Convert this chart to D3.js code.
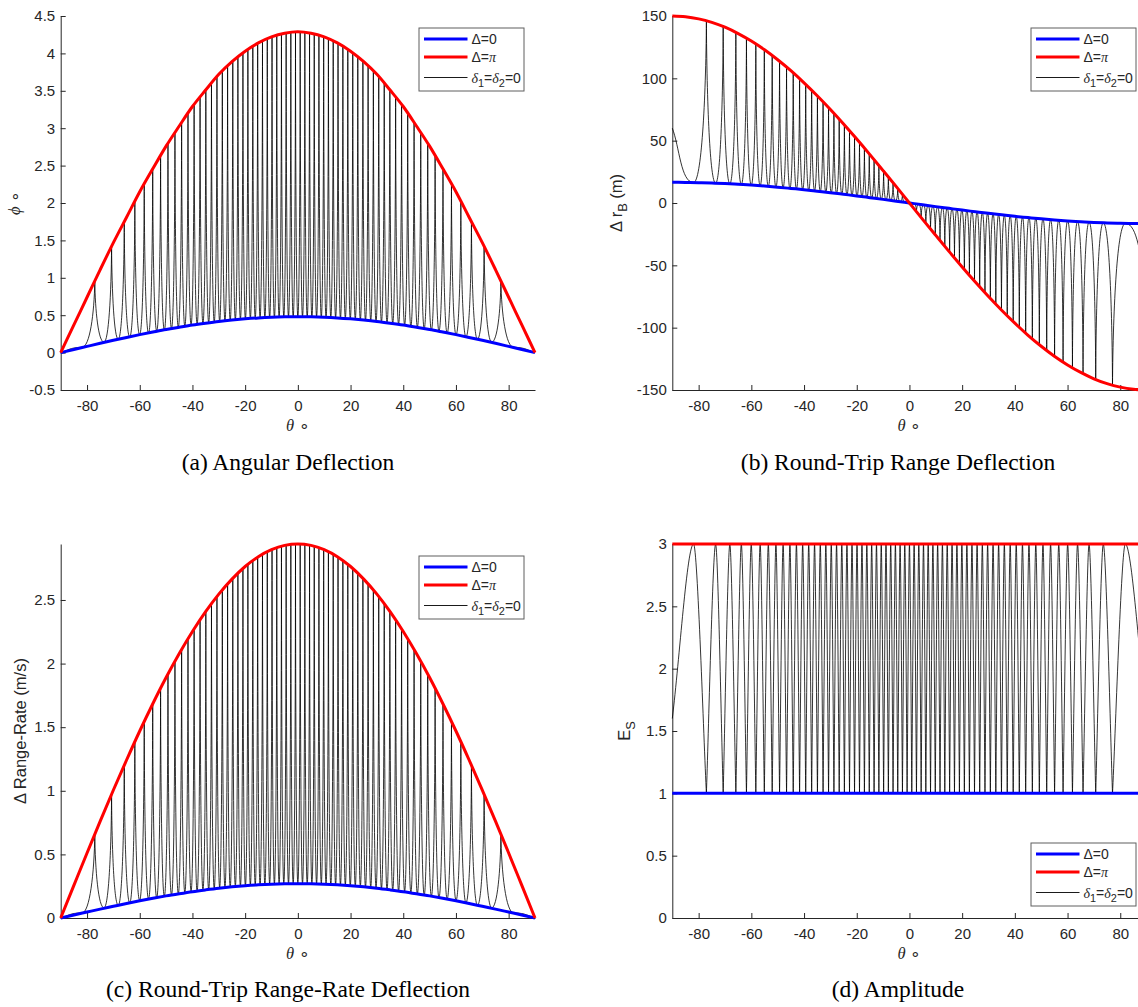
<!DOCTYPE html>
<html>
<head>
<meta charset="utf-8">
<script src="https://cdn.jsdelivr.net/npm/d3@7"></script>
<style>
  body { margin: 0; background: #fff; }
  text { font-family: "Liberation Sans", Arial, Helvetica, sans-serif; fill: #262626; }
  .caption { font-family: "Liberation Serif", "Times New Roman", serif; fill: #000; }
</style>
</head>
<body>
<div id="figure"></div>
<script>

// initial settings

var svgWidth = 1138;
var svgHeight = 1007;

// tick labels

var xTicks = [-80, -60, -40, -20, 0, 20, 40, 60, 80];
var ticksA = [-0.5, 0, 0.5, 1, 1.5, 2, 2.5, 3, 3.5, 4, 4.5];
var ticksB = [-150, -100, -50, 0, 50, 100, 150];
var ticksC = [0, 0.5, 1, 1.5, 2, 2.5];
var ticksD = [0, 0.5, 1, 1.5, 2, 2.5, 3];

// envelope curves (delta = 0 blue, delta = pi red), read every 5 degrees

var envTheta = [-90, -85, -80, -75, -70, -65, -60, -55, -50, -45, -40, -35, -30, -25, -20, -15, -10, -5, 0,
  5, 10, 15, 20, 25, 30, 35, 40, 45, 50, 55, 60, 65, 70, 75, 80, 85, 90];

var redA = [0, 0.37, 0.74, 1.11, 1.47, 1.81, 2.15, 2.46, 2.76, 3.03, 3.29, 3.51, 3.72, 3.89, 4.03, 4.14, 4.22, 4.27, 4.29,
  4.27, 4.22, 4.14, 4.03, 3.89, 3.72, 3.51, 3.29, 3.03, 2.76, 2.46, 2.15, 1.81, 1.47, 1.11, 0.74, 0.37, 0];
var blueA = [0, 0.042, 0.083, 0.124, 0.164, 0.203, 0.24, 0.275, 0.309, 0.339, 0.368, 0.393, 0.416, 0.435, 0.451, 0.464, 0.473, 0.478, 0.48,
  0.478, 0.473, 0.464, 0.451, 0.435, 0.416, 0.393, 0.368, 0.339, 0.309, 0.275, 0.24, 0.203, 0.164, 0.124, 0.083, 0.042, 0];

var redB = [150, 149.4, 147.7, 144.9, 141.0, 135.9, 129.9, 122.9, 114.9, 106.1, 96.4, 86.0, 75.0, 63.4, 51.3, 38.8, 26.0, 13.1, 0,
  -13.1, -26.0, -38.8, -51.3, -63.4, -75.0, -86.0, -96.4, -106.1, -114.9, -122.9, -129.9, -135.9, -141.0, -144.9, -147.7, -149.4, -150];
var blueB = [16.6, 16.5, 16.3, 16.0, 15.6, 15.0, 14.4, 13.6, 12.7, 11.7, 10.7, 9.5, 8.3, 7.0, 5.7, 4.3, 2.9, 1.4, 0,
  -1.4, -2.9, -4.3, -5.7, -7.0, -8.3, -9.5, -10.7, -11.7, -12.7, -13.6, -14.4, -15.0, -15.6, -16.0, -16.3, -16.5, -16.6];

var redC = [0, 0.256, 0.511, 0.761, 1.006, 1.242, 1.47, 1.686, 1.89, 2.079, 2.252, 2.408, 2.546, 2.664, 2.763, 2.84, 2.895, 2.929, 2.94,
  2.929, 2.895, 2.84, 2.763, 2.664, 2.546, 2.408, 2.252, 2.079, 1.89, 1.686, 1.47, 1.242, 1.006, 0.761, 0.511, 0.256, 0];
var blueC = [0, 0.024, 0.047, 0.07, 0.092, 0.114, 0.135, 0.155, 0.174, 0.191, 0.207, 0.221, 0.234, 0.245, 0.254, 0.261, 0.266, 0.269, 0.27,
  0.269, 0.266, 0.261, 0.254, 0.245, 0.234, 0.221, 0.207, 0.191, 0.174, 0.155, 0.135, 0.114, 0.092, 0.07, 0.047, 0.024, 0];

var flatTheta = [-90, 90];
var redD = [3, 3];
var blueD = [1, 1];

// delta1 = delta2 = 0 curve: end points and turning points (theta, degrees)

var blackTheta = [-90,
  -81.92, -77.06, -73.56, -70.69, -68.16, -65.88, -63.80, -61.86, -60.04, -58.30,
  -56.66, -55.08, -53.56, -52.09, -50.67, -49.29, -47.95, -46.64, -45.36, -44.11,
  -42.89, -41.69, -40.52, -39.37, -38.23, -37.11, -36.01, -34.92, -33.84, -32.78,
  -31.73, -30.70, -29.67, -28.66, -27.66, -26.66, -25.67, -24.69, -23.72, -22.75,
  -21.80, -20.84, -19.90, -18.96, -18.02, -17.09, -16.17, -15.25, -14.33, -13.42,
  -12.51, -11.60, -10.70, -9.80, -8.90, -8.00, -7.11, -6.22, -5.33, -4.44,
  -3.55, -2.66, -1.77, -0.89,
  0,
  0.89, 1.77, 2.66, 3.55, 4.44, 5.33, 6.22, 7.11, 8.00, 8.90,
  9.80, 10.70, 11.60, 12.51, 13.42, 14.33, 15.25, 16.17, 17.09, 18.02,
  18.96, 19.90, 20.84, 21.80, 22.75, 23.72, 24.69, 25.67, 26.66, 27.66,
  28.66, 29.67, 30.70, 31.73, 32.78, 33.84, 34.92, 36.01, 37.11, 38.23,
  39.37, 40.52, 41.69, 42.89, 44.11, 45.36, 46.64, 47.95, 49.29, 50.67,
  52.09, 53.56, 55.08, 56.66, 58.30, 60.04, 61.86, 63.80, 65.88, 68.16,
  70.69, 73.56, 77.06, 81.92,
  90];

var blackA = [0,
  0.07, 0.96, 0.14, 1.42, 0.18, 1.75, 0.21, 2.02, 0.24, 2.25,
  0.26, 2.46, 0.29, 2.64, 0.30, 2.80, 0.32, 2.95, 0.34, 3.08,
  0.35, 3.20, 0.37, 3.32, 0.38, 3.42, 0.39, 3.52, 0.40, 3.61,
  0.41, 3.69, 0.42, 3.76, 0.43, 3.83, 0.43, 3.90, 0.44, 3.96,
  0.45, 4.01, 0.45, 4.06, 0.46, 4.10, 0.46, 4.14, 0.47, 4.17,
  0.47, 4.20, 0.47, 4.23, 0.47, 4.25, 0.48, 4.27, 0.48, 4.28,
  0.48, 4.29, 0.48, 4.29,
  0.48,
  4.29, 0.48, 4.29, 0.48, 4.28, 0.48, 4.27, 0.48, 4.25, 0.47,
  4.23, 0.47, 4.20, 0.47, 4.17, 0.47, 4.14, 0.46, 4.10, 0.46,
  4.06, 0.45, 4.01, 0.45, 3.96, 0.44, 3.90, 0.43, 3.83, 0.43,
  3.76, 0.42, 3.69, 0.41, 3.61, 0.40, 3.52, 0.39, 3.42, 0.38,
  3.32, 0.37, 3.20, 0.35, 3.08, 0.34, 2.95, 0.32, 2.80, 0.30,
  2.64, 0.29, 2.46, 0.26, 2.25, 0.24, 2.02, 0.21, 1.75, 0.18,
  1.42, 0.14, 0.96, 0.07,
  0];

var blackB = [60,
  16.4, 146.2, 15.9, 141.6, 15.4, 136.9, 14.9, 132.3, 14.4, 127.6,
  13.9, 123.0, 13.4, 118.3, 12.8, 113.7, 12.3, 109.1, 11.8, 104.4,
  11.3, 99.8, 10.8, 95.1, 10.3, 90.5, 9.8, 85.9, 9.2, 81.2,
  8.7, 76.6, 8.2, 71.9, 7.7, 67.3, 7.2, 62.7, 6.7, 58.0,
  6.2, 53.4, 5.7, 48.7, 5.1, 44.1, 4.6, 39.5, 4.1, 34.8,
  3.6, 30.2, 3.1, 25.5, 2.6, 20.9, 2.1, 16.2, 1.5, 11.6,
  1.0, 7.0, 0.5, 2.3,
  0,
  -2.3, -0.5, -7.0, -1.0, -11.6, -1.5, -16.2, -2.1, -20.9, -2.6,
  -25.5, -3.1, -30.2, -3.6, -34.8, -4.1, -39.5, -4.6, -44.1, -5.1,
  -48.7, -5.7, -53.4, -6.2, -58.0, -6.7, -62.7, -7.2, -67.3, -7.7,
  -71.9, -8.2, -76.6, -8.7, -81.2, -9.2, -85.9, -9.8, -90.5, -10.3,
  -95.1, -10.8, -99.8, -11.3, -104.4, -11.8, -109.1, -12.3, -113.7, -12.8,
  -118.3, -13.4, -123.0, -13.9, -127.6, -14.4, -132.3, -14.9, -136.9, -15.4,
  -141.6, -15.9, -146.2, -16.4,
  -60];

var blackC = [0,
  0.04, 0.66, 0.08, 0.97, 0.10, 1.20, 0.12, 1.39, 0.14, 1.55,
  0.15, 1.68, 0.16, 1.81, 0.17, 1.92, 0.18, 2.02, 0.19, 2.11,
  0.20, 2.20, 0.21, 2.27, 0.21, 2.35, 0.22, 2.41, 0.22, 2.47,
  0.23, 2.53, 0.24, 2.58, 0.24, 2.63, 0.24, 2.67, 0.25, 2.71,
  0.25, 2.75, 0.25, 2.78, 0.26, 2.81, 0.26, 2.84, 0.26, 2.86,
  0.26, 2.88, 0.27, 2.90, 0.27, 2.91, 0.27, 2.92, 0.27, 2.93,
  0.27, 2.94, 0.27, 2.94,
  0.27,
  2.94, 0.27, 2.94, 0.27, 2.93, 0.27, 2.92, 0.27, 2.91, 0.27,
  2.90, 0.27, 2.88, 0.26, 2.86, 0.26, 2.84, 0.26, 2.81, 0.26,
  2.78, 0.25, 2.75, 0.25, 2.71, 0.25, 2.67, 0.24, 2.63, 0.24,
  2.58, 0.24, 2.53, 0.23, 2.47, 0.22, 2.41, 0.22, 2.35, 0.21,
  2.27, 0.21, 2.20, 0.20, 2.11, 0.19, 2.02, 0.18, 1.92, 0.17,
  1.81, 0.16, 1.68, 0.15, 1.55, 0.14, 1.39, 0.12, 1.20, 0.10,
  0.97, 0.08, 0.66, 0.04,
  0];

var blackD = [1.6,
  3, 1, 3, 1, 3, 1, 3, 1, 3, 1,
  3, 1, 3, 1, 3, 1, 3, 1, 3, 1,
  3, 1, 3, 1, 3, 1, 3, 1, 3, 1,
  3, 1, 3, 1, 3, 1, 3, 1, 3, 1,
  3, 1, 3, 1, 3, 1, 3, 1, 3, 1,
  3, 1, 3, 1, 3, 1, 3, 1, 3, 1,
  3, 1, 3, 1,
  3,
  1, 3, 1, 3, 1, 3, 1, 3, 1, 3,
  1, 3, 1, 3, 1, 3, 1, 3, 1, 3,
  1, 3, 1, 3, 1, 3, 1, 3, 1, 3,
  1, 3, 1, 3, 1, 3, 1, 3, 1, 3,
  1, 3, 1, 3, 1, 3, 1, 3, 1, 3,
  1, 3, 1, 3, 1, 3, 1, 3, 1, 3,
  1, 3, 1, 3,
  1.6];

// shape of the black curve between turning points

var spike = { round: 0.6, sharpX: 0.04, sharpY: 0.5 };
var wave = { round: 0.3, sharpX: 0.2, sharpY: 0.2 };

// panel layout

var panels = [
  { left: 60.7, right: 535, top: 16, bottom: 390, ydomain: [-0.5, 4.5], yticks: ticksA,
    envx: envTheta, red: redA, blue: blueA, black: blackA, shape: spike,
    legendRight: 524, legendTop: 28,
    ylabel: [["ϕ", "g"], [" ∘", ""]], ylabelX: 20,
    caption: "(a) Angular Deflection", captionX: 288, captionY: 470 },
  { left: 672.3, right: 1146.6, top: 16, bottom: 390, ydomain: [-150, 150], yticks: ticksB,
    envx: envTheta, red: redB, blue: blueB, black: blackB, shape: spike,
    legendRight: 1136, legendTop: 28,
    ylabel: [["Δ r", ""], ["B", "s"], [" (m)", ""]], ylabelX: 622,
    caption: "(b) Round-Trip Range Deflection", captionX: 898, captionY: 470 },
  { left: 60.7, right: 535, top: 544, bottom: 918, ydomain: [0, 2.94], yticks: ticksC,
    envx: envTheta, red: redC, blue: blueC, black: blackC, shape: spike,
    legendRight: 524, legendTop: 556,
    ylabel: [["Δ Range-Rate (m/s)", ""]], ylabelX: 26,
    caption: "(c) Round-Trip Range-Rate Deflection", captionX: 288, captionY: 997 },
  { left: 672.3, right: 1146.6, top: 544, bottom: 918, ydomain: [0, 3], yticks: ticksD,
    envx: flatTheta, red: redD, blue: blueD, black: blackD, shape: wave,
    legendRight: 1136, legendTop: 843,
    ylabel: [["E", ""], ["S", "s"]], ylabelX: 630,
    caption: "(d) Amplitude", captionX: 898, captionY: 997 }
];

var legendItems = [
  { color: "#0000ff", width: 3, parts: [["Δ=0", ""]] },
  { color: "#ff0000", width: 3, parts: [["Δ=", ""], ["π", "g"]] },
  { color: "#000000", width: 0.9, parts: [["δ", "g"], ["1", "s"], ["=", ""], ["δ", "g"], ["2", "s"], ["=0", ""]] }
];

// create svg element

var svg = d3.select("#figure")
  .append("svg")
  .attr("width", svgWidth)
  .attr("height", svgHeight)
  .style("display", "block")
  .style("background", "#fff");

// write text made of plain, greek and subscript pieces

function richText(sel, parts, size) {
  var shifted = 0;
  parts.forEach(function (part) {
    var t = sel.append("tspan").text(part[0]);
    var shift = part[1] === "s" ? size * 0.3 : 0;
    if (shift !== shifted) {
      t.attr("dy", shift - shifted);
      shifted = shift;
    }
    if (part[1] === "g") {
      t.style("font-family", "'Liberation Serif', 'DejaVu Serif', serif")
        .style("font-style", "italic");
    }
    if (part[1] === "s") {
      t.attr("font-size", size * 0.78);
    }
  });
  return sel;
}

// control point for one end of a bezier piece

function control(kind, px, py, ox, oy, dx, s, dir) {
  if (kind === "round") return [px + dir * s.round * dx, py];
  if (kind === "sharp") return [px + dir * s.sharpX * dx, py + s.sharpY * (oy - py)];
  return [px + (ox - px) / 3, py + (oy - py) / 3];
}

// black curve: rounded at even turning points, sharp at odd ones

function blackPath(xs, ys, s) {
  var n = xs.length;
  var kind = function (i) {
    if (i === 0 || i === n - 1) return "end";
    return i % 2 === 0 ? "sharp" : "round";
  };
  var path = d3.path();
  path.moveTo(xs[0], ys[0]);
  for (var i = 0; i < n - 1; i++) {
    var dx = xs[i + 1] - xs[i];
    var c1 = control(kind(i), xs[i], ys[i], xs[i + 1], ys[i + 1], dx, s, 1);
    var c2 = control(kind(i + 1), xs[i + 1], ys[i + 1], xs[i], ys[i], dx, s, -1);
    path.bezierCurveTo(c1[0], c1[1], c2[0], c2[1], xs[i + 1], ys[i + 1]);
  }
  return path.toString();
}

// legend box

function drawLegend(g, right, top) {
  var w = 105, h = 63;
  var rows = [11, 29, 49.5];
  var box = g.append("g").attr("transform", `translate(${right - w}, ${top})`);
  box.append("rect")
    .attr("width", w)
    .attr("height", h)
    .attr("fill", "#fff")
    .attr("stroke", "#5f5f5f")
    .attr("stroke-width", 1);
  legendItems.forEach(function (item, i) {
    box.append("line")
      .attr("x1", 5).attr("x2", 48.5)
      .attr("y1", rows[i]).attr("y2", rows[i])
      .attr("stroke", item.color)
      .attr("stroke-width", item.width);
    var t = box.append("text")
      .attr("x", 52.5)
      .attr("y", rows[i] + 5)
      .attr("font-size", 14);
    richText(t, item.parts, 14);
  });
}

// draw each panel

panels.forEach(function (p) {
  var x = d3.scaleLinear().domain([-90, 90]).range([p.left, p.right]);
  var y = d3.scaleLinear().domain(p.ydomain).range([p.bottom, p.top]);
  var g = svg.append("g");

  // axes
  var bottom = d3.axisBottom(x)
    .tickValues(xTicks)
    .tickSizeInner(-5)
    .tickSizeOuter(0)
    .tickPadding(10)
    .tickFormat(d => String(d));
  var left = d3.axisLeft(y)
    .tickValues(p.yticks)
    .tickSizeInner(-5)
    .tickSizeOuter(0)
    .tickPadding(5.5)
    .tickFormat(d => String(d));

  g.append("g")
    .attr("transform", `translate(0, ${p.bottom})`)
    .call(bottom)
    .attr("font-size", 15)
    .attr("font-family", null)
    .attr("color", "#262626");
  g.append("g")
    .attr("transform", `translate(${p.left}, 0)`)
    .call(left)
    .attr("font-size", 15)
    .attr("font-family", null)
    .attr("color", "#262626");

  // delta1 = delta2 = 0 curve
  g.append("path")
    .attr("d", blackPath(blackTheta.map(d => x(d)), p.black.map(d => y(d)), p.shape))
    .attr("fill", "none")
    .attr("stroke", "#000")
    .attr("stroke-width", 0.8);

  // envelopes
  var line = d3.line()
    .x((d, i) => x(p.envx[i]))
    .y(d => y(d))
    .curve(d3.curveMonotoneX);

  g.append("path")
    .datum(p.blue)
    .attr("d", line)
    .attr("fill", "none")
    .attr("stroke", "#0000ff")
    .attr("stroke-width", 3);

  g.append("path")
    .datum(p.red)
    .attr("d", line)
    .attr("fill", "none")
    .attr("stroke", "#ff0000")
    .attr("stroke-width", 3);

  // axis labels
  var xl = g.append("text")
    .attr("x", (p.left + p.right) / 2 + (p.left < 300 ? 0 : 0))
    .attr("y", p.bottom + 41)
    .attr("text-anchor", "middle")
    .attr("font-size", 16.5);
  richText(xl, [["θ", "g"], [" ∘", ""]], 16.5);

  var yl = g.append("text")
    .attr("transform", `translate(${p.ylabelX}, ${(p.top + p.bottom) / 2}) rotate(-90)`)
    .attr("text-anchor", "middle")
    .attr("font-size", 16.5);
  richText(yl, p.ylabel, 16.5);

  drawLegend(g, p.legendRight, p.legendTop);

  // caption
  g.append("text")
    .attr("class", "caption")
    .attr("x", p.captionX)
    .attr("y", p.captionY)
    .attr("text-anchor", "middle")
    .attr("font-size", 23.5)
    .text(p.caption);
});

</script>
</body>
</html>
